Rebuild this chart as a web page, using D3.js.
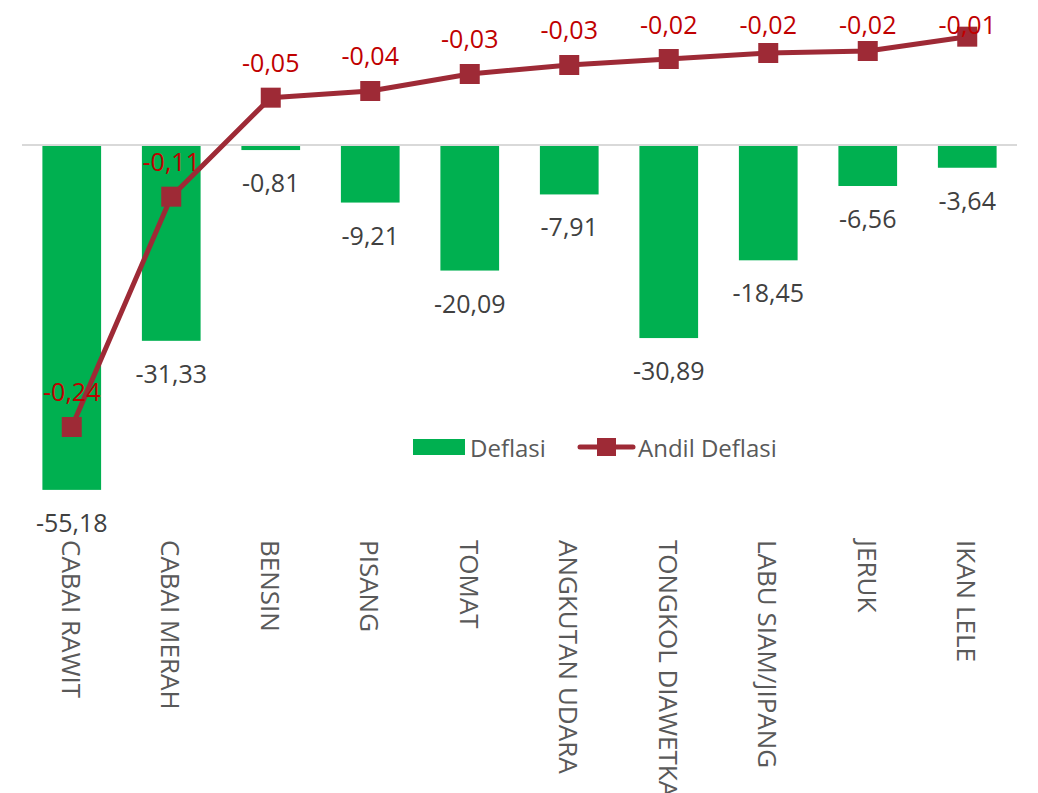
<!DOCTYPE html>
<html>
<head>
<meta charset="utf-8">
<script src="https://cdn.jsdelivr.net/npm/d3@7"></script>
<style>
  html, body { margin: 0; padding: 0; background: #fff; }
  svg { display: block; font-family: "Open Sans", sans-serif; }
</style>
</head>
<body>
<svg id="chart" width="1038" height="793"></svg>
<script>
// data
const categories = ['CABAI RAWIT', 'CABAI MERAH', 'BENSIN', 'PISANG', 'TOMAT',
  'ANGKUTAN UDARA', 'TONGKOL DIAWETKA', 'LABU SIAM/JIPANG', 'JERUK', 'IKAN LELE'];
const deflasi = [-55.18, -31.33, -0.81, -9.21, -20.09, -7.91, -30.89, -18.45, -6.56, -3.64];
const andilDeflasi = [-0.2442, -0.1060, -0.0466, -0.0426, -0.0324, -0.0270, -0.0234, -0.0198, -0.0186, -0.0100];
const seriesNames = ['Deflasi', 'Andil Deflasi'];

const fmt = v => v.toFixed(2).replace('.', ',');

const svg = d3.select('#chart');

const x = d3.scaleBand()
  .domain(categories)
  .range([22, 1017])
  .paddingInner(0.41)
  .paddingOuter(0.205);

// sumbu utama (batang) dan sumbu kedua (garis)
const y = d3.scaleLinear().domain([-60, 20]).range([520, 20]);
const y2 = d3.scaleLinear().domain([-0.3, 0]).range([520, 20]);

const rows = categories.map((c, i) => ({ c, v: deflasi[i], a: andilDeflasi[i] }));

// bars
svg.append('g').selectAll('rect')
  .data(rows)
  .join('rect')
  .attr('x', d => x(d.c))
  .attr('width', x.bandwidth())
  .attr('y', d => y(Math.max(0, d.v)))
  .attr('height', d => Math.abs(y(d.v) - y(0)))
  .attr('fill', '#00b050');

// garis nol
svg.append('line')
  .attr('x1', 22).attr('x2', 1017)
  .attr('y1', y(0)).attr('y2', y(0))
  .attr('stroke', '#d9d9d9')
  .attr('stroke-width', 2);

// bar labels
svg.append('g').selectAll('text')
  .data(rows)
  .join('text')
  .attr('x', d => x(d.c) + x.bandwidth() / 2)
  .attr('y', d => y(d.v) + 32)
  .attr('text-anchor', 'middle')
  .attr('dominant-baseline', 'central')
  .attr('font-size', 25)
  .attr('fill', '#404040')
  .text(d => fmt(d.v));

// line
const cx = d => x(d.c) + x.bandwidth() / 2;
const line = d3.line().x(cx).y(d => y2(d.a));

svg.append('path')
  .datum(rows)
  .attr('d', line)
  .attr('fill', 'none')
  .attr('stroke', '#9e2a36')
  .attr('stroke-width', 5)
  .attr('stroke-linejoin', 'round');

const ms = 20;
svg.append('g').selectAll('rect')
  .data(rows)
  .join('rect')
  .attr('x', d => cx(d) - ms / 2)
  .attr('y', d => y2(d.a) - ms / 2)
  .attr('width', ms)
  .attr('height', ms)
  .attr('fill', '#9e2a36');

svg.append('g').selectAll('text')
  .data(rows)
  .join('text')
  .attr('x', cx)
  .attr('y', d => Math.max(y2(d.a) - 36, 24))
  .attr('text-anchor', 'middle')
  .attr('dominant-baseline', 'central')
  .attr('font-size', 25)
  .attr('fill', '#c00000')
  .text(d => fmt(d.a));

// category labels (rotated)
svg.append('g').selectAll('text')
  .data(categories)
  .join('text')
  .attr('transform', c => `translate(${x(c) + x.bandwidth() / 2},540) rotate(90)`)
  .attr('text-anchor', 'start')
  .attr('dominant-baseline', 'central')
  .attr('font-size', 26)
  .attr('fill', '#595959')
  .text(c => c);

// legend
const lg = svg.append('g');
const ly = 447;
lg.append('rect')
  .attr('x', 413).attr('y', ly - 8)
  .attr('width', 52).attr('height', 16)
  .attr('fill', '#00b050');
lg.append('text')
  .attr('x', 470).attr('y', ly)
  .attr('dominant-baseline', 'central')
  .attr('font-size', 24)
  .attr('fill', '#595959')
  .text(seriesNames[0]);
lg.append('line')
  .attr('x1', 580).attr('x2', 633)
  .attr('y1', ly).attr('y2', ly)
  .attr('stroke', '#9e2a36')
  .attr('stroke-width', 5)
  .attr('stroke-linecap', 'round');
lg.append('rect')
  .attr('x', 597).attr('y', ly - 9)
  .attr('width', 19).attr('height', 18)
  .attr('fill', '#9e2a36');
lg.append('text')
  .attr('x', 638).attr('y', ly)
  .attr('dominant-baseline', 'central')
  .attr('font-size', 24)
  .attr('fill', '#595959')
  .text(seriesNames[1]);
</script>
</body>
</html>
